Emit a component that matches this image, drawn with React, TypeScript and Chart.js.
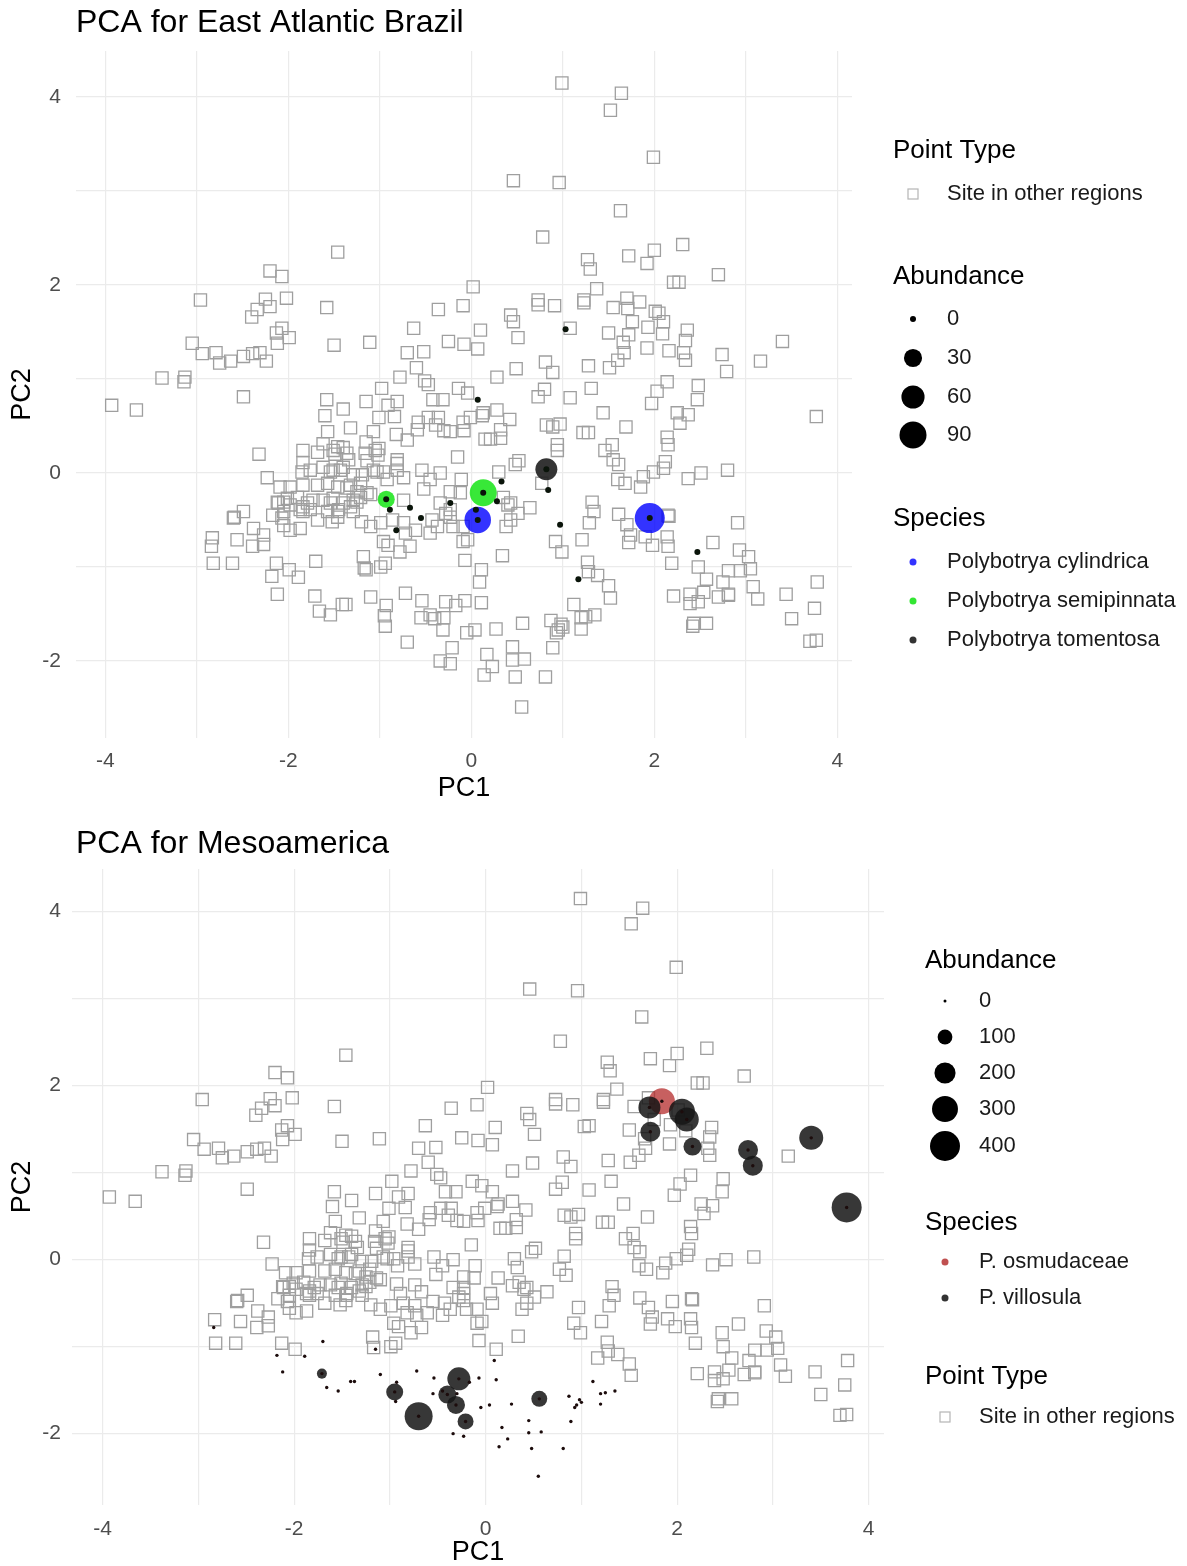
import { useEffect, useRef } from "react";
import { Chart, registerables } from "chart.js";

Chart.register(...registerables);

const FONT = "'Liberation Sans', Arial, Helvetica, sans-serif";

type XY = [number, number];
type Obs = [number, number, number]; // PC1, PC2, abundance

// Sites outside both focal regions (PC1, PC2)
const otherSites: XY[] = [
  [-1.46, 2.35], [-2.2, 2.15], [-2.07, 2.09], [-2.96, 1.84], [-2.25, 1.85], [-2.02, 1.86], [0.02, 1.98],
  [0.99, 4.15], [1.64, 4.04], [1.52, 3.86], [1.99, 3.36], [0.46, 3.11], [0.96, 3.09], [1.63, 2.79],
  [0.78, 2.51], [1.27, 2.27], [1.3, 2.17], [1.72, 2.31], [2.0, 2.37], [1.92, 2.23], [2.31, 2.43],
  [2.7, 2.11], [2.21, 2.03], [2.27, 2.03], [1.37, 1.96], [0.73, 1.84], [1.23, 1.84], [1.7, 1.86],
  [-2.34, 1.74], [-2.2, 1.77], [-2.4, 1.66], [-1.58, 1.76], [-0.36, 1.74], [-0.09, 1.78], [-0.63, 1.54],
  [-2.07, 1.54], [-2.13, 1.49], [-1.99, 1.44], [-2.12, 1.38], [-1.5, 1.36], [-1.11, 1.39], [-0.25, 1.4],
  [-0.08, 1.37], [-3.05, 1.38], [-2.94, 1.27], [-2.79, 1.28], [-2.75, 1.17], [-2.63, 1.19], [-2.49, 1.24],
  [-2.39, 1.27], [-2.31, 1.28], [-2.24, 1.19], [-0.7, 1.28], [-0.52, 1.29], [-3.38, 1.01], [-3.13, 1.02],
  [-3.14, 0.97], [-0.6, 1.12], [-0.78, 1.02], [-0.51, 0.98], [-0.47, 0.94], [-3.93, 0.72], [-3.66, 0.67],
  [-2.49, 0.81], [-0.98, 0.9], [-0.14, 0.9], [-0.04, 0.85], [-1.58, 0.78], [-1.15, 0.76], [-1.4, 0.68],
  [-0.91, 0.72], [-0.81, 0.76], [-1.01, 0.59], [-0.84, 0.6], [-1.6, 0.61], [-0.42, 0.78], [-0.31, 0.78],
  [-0.58, 0.54], [-0.47, 0.59], [-0.36, 0.59], [-0.39, 0.51], [-0.3, 0.45], [-0.09, 0.54], [-0.01, 0.59],
  [-0.08, 0.45], [-1.32, 0.48], [-1.57, 0.44], [-1.07, 0.44], [-0.82, 0.41], [-0.7, 0.35], [-1.62, 0.31],
  [-1.4, 0.27], [-1.15, 0.33], [-1.84, 0.24], [-1.51, 0.24], [-1.01, 0.26], [-1.02, 0.19], [-2.32, 0.2],
  [-0.15, 0.17], [-1.49, 0.2], [-1.34, 0.14], [-1.16, 0.21], [-1.14, 0.13], [-0.81, 0.14], [-0.81, 0.1],
  [-1.84, 0.11], [-1.62, 0.06], [-1.51, 0.03], [-1.4, 0.06], [-2.23, -0.05], [-1.85, 0.01], [-1.76, 0.03],
  [-1.29, -0.02], [-1.19, -0.02], [-1.03, 0.01], [-0.96, 0.01], [-0.54, 0.03], [-0.34, 0.0], [-0.74, -0.05],
  [-0.45, -0.07], [-0.11, -0.07], [-1.98, -0.15], [-1.84, -0.13], [-1.68, -0.13], [-1.57, -0.11],
  [-1.46, -0.15], [-1.36, -0.16], [-1.25, -0.2], [-1.14, -0.21], [-0.52, -0.17], [-0.23, -0.2],
  [-2.12, -0.31], [-2.05, -0.31], [-1.9, -0.26], [-1.79, -0.32], [-1.62, -0.29], [-1.51, -0.27],
  [-1.4, -0.32], [-1.29, -0.29], [-1.87, -0.39], [-1.76, -0.39], [-1.46, -0.41], [-0.74, -0.29],
  [-0.34, -0.32], [-2.59, -0.47], [-2.49, -0.41],
  [-1.68, 0.22], [-1.46, 0.28], [-1.36, 0.21], [-1.05, 0.24], [-1.54, 0.01], [-1.43, 0.03], [-1.07, 0.03],
  [-2.09, -0.15], [-1.32, -0.13], [-1.21, -0.11], [-2.01, -0.27], [-1.73, -0.29], [-1.21, -0.26],
  [-1.1, -0.23], [-2.05, -0.41], [-1.57, -0.41], [-1.29, -0.41], [-1.68, -0.5], [-0.92, -0.07],
  [-0.81, 0.03], [-0.86, -0.5], [-0.74, -0.53], [-0.12, -0.21], [-0.23, -0.39], [-0.43, -0.5],
  [-0.09, -0.57], [-0.2, -0.57], [-0.04, -0.71], [-0.59, 0.46], [-0.23, 0.44],
  [0.73, 1.79], [0.91, 1.78], [1.23, 1.81], [1.55, 1.76], [2.01, 1.72], [0.43, 1.68], [0.46, 1.61],
  [0.1, 1.52], [0.51, 1.44], [0.07, 1.32], [1.08, 1.54], [1.5, 1.49], [1.66, 1.39], [1.76, 1.61],
  [1.93, 1.55], [2.09, 1.48], [2.36, 1.52], [2.34, 1.41], [2.32, 1.28], [1.92, 1.33], [1.67, 1.28],
  [1.6, 1.2], [1.51, 1.12], [1.28, 1.14], [0.81, 1.18], [0.89, 1.07], [0.49, 1.11], [0.28, 1.02],
  [2.34, 1.2], [3.16, 1.19], [2.14, 0.97], [2.03, 0.87], [1.97, 0.74], [2.48, 0.93], [2.47, 0.78],
  [1.31, 0.9], [1.08, 0.8], [0.8, 0.89], [0.73, 0.81], [1.44, 0.64], [1.69, 0.49], [1.28, 0.43],
  [1.22, 0.43], [0.97, 0.52], [0.89, 0.49], [0.82, 0.51], [2.25, 0.64], [2.37, 0.62], [2.28, 0.53],
  [0.13, 0.64], [0.28, 0.67], [0.12, 0.61], [0.42, 0.57], [0.32, 0.46], [0.21, 0.36], [0.32, 0.37],
  [0.15, 0.36], [0.94, 0.3], [0.94, 0.24], [1.54, 0.3], [1.46, 0.24], [1.55, 0.14], [1.61, 0.09],
  [1.6, -0.07], [1.68, -0.11], [1.85, -0.15], [1.88, -0.04], [1.99, 0.01], [2.12, 0.12], [2.1, 0.05],
  [2.14, 0.38], [2.15, 0.3], [2.37, -0.06], [2.51, 0.0], [2.8, 0.03], [0.48, 0.09], [0.52, 0.13],
  [0.3, 0.01], [0.77, -0.11], [0.35, -0.26], [0.43, -0.32], [0.64, -0.37], [0.51, -0.43], [1.32, -0.31],
  [1.34, -0.41], [1.61, -0.44], [2.15, -0.45],
  [0.43, -0.5], [0.38, -0.57], [0.4, -0.34], [1.29, -0.53], [1.7, -0.55], [1.74, -0.66], [1.72, -0.74],
  [1.9, -0.68], [1.98, -0.77], [2.14, -0.68], [2.15, -0.78], [2.16, -0.46], [0.92, -0.73], [0.99, -0.84],
  [1.21, -0.71], [0.34, -0.88], [0.11, -1.03], [2.91, -0.53], [2.64, -0.74], [2.93, -0.82], [3.03, -0.89],
  [3.05, -1.02], [2.94, -1.04], [2.81, -1.04], [2.75, -1.16], [2.81, -1.29], [3.08, -1.21], [3.13, -1.34],
  [3.44, -1.29], [3.78, -1.16], [3.75, -1.44], [3.5, -1.55], [3.7, -1.79], [3.77, -1.78], [2.19, -0.96],
  [2.48, -1.0], [2.57, -1.13], [2.54, -1.27], [2.39, -1.29], [2.48, -1.37], [2.39, -1.39], [2.21, -1.31],
  [2.7, -1.32], [2.81, -1.3], [2.43, -1.6], [2.57, -1.6], [2.42, -1.63], [1.27, -0.95], [1.28, -1.05],
  [1.38, -1.09], [1.5, -1.2], [1.52, -1.33],
  [-2.11, -0.32], [-1.98, -0.34], [-1.84, -0.36], [-1.54, -0.32], [-1.45, -0.39], [-1.32, -0.36],
  [-1.25, -0.31], [-2.6, -0.48], [-2.38, -0.59], [-2.27, -0.66], [-2.17, -0.45], [-2.07, -0.48],
  [-2.05, -0.56], [-1.98, -0.61], [-1.87, -0.59], [-1.84, -0.41], [-1.52, -0.52], [-1.46, -0.47],
  [-2.83, -0.69], [-2.56, -0.71], [-2.39, -0.78], [-2.27, -0.76], [-2.82, -0.96], [-2.61, -0.96],
  [-2.13, -0.96], [-1.99, -1.03], [-1.2, -0.52], [-1.1, -0.57], [-0.99, -0.53], [-0.96, -0.73],
  [-0.91, -0.77], [-0.78, -0.84], [-0.67, -0.78], [-0.72, -0.64], [-0.61, -0.61], [-0.45, -0.64],
  [-0.37, -0.57], [-0.28, -0.43], [-0.23, -0.47], [-0.09, -0.73], [-0.07, -0.93], [-1.18, -0.89],
  [-1.17, -1.01], [-0.99, -1.0], [-0.94, -0.96],
];

// East Atlantic Brazil sites
const brazilSites: XY[] = [
  [1.03, 1.53], [0.07, 0.78], [-0.93, -0.28], [-0.89, -0.39], [-0.67, -0.37], [-0.55, -0.48],
  [-0.82, -0.61], [-0.23, -0.32], [0.05, -0.39], [0.07, -0.5], [0.13, -0.21], [0.33, -0.09],
  [0.28, -0.3], [0.82, 0.04], [0.84, -0.18], [0.97, -0.55], [1.17, -1.13], [1.95, -0.48], [2.47, -0.84],
];
const cylindrica: Obs[] = [[0.07, -0.5, 86], [1.95, -0.48, 118]];
const semipinnata: Obs[] = [[-0.93, -0.28, 25], [0.13, -0.21, 90]];
const tomentosa: Obs[] = [[0.82, 0.04, 52]];

// Mesoamerica sites
const mesoSites: XY[] = [
  [-2.84, -0.78], [-2.18, -1.1], [-2.12, -1.29], [-1.89, -1.11], [-1.7, -0.94], [-1.66, -1.47],
  [-1.54, -1.51], [-1.41, -1.4], [-1.37, -1.4], [-1.15, -1.03], [-1.1, -1.32], [-0.94, -1.63],
  [-0.93, -1.41], [-0.72, -1.28], [-0.54, -1.36], [-0.55, -1.54], [-0.45, -1.51], [-0.3, -1.54],
  [-0.07, -1.36], [-0.17, -1.41], [0.09, -1.16], [0.11, -1.38], [-0.05, -1.7], [0.04, -1.67],
  [0.27, -1.66], [-0.34, -2.0], [-0.23, -2.03], [0.17, -1.93], [0.23, -2.06], [0.14, -2.15],
  [0.45, -1.85], [0.45, -1.99], [0.58, -1.98], [0.48, -2.17], [0.55, -2.49], [0.81, -2.17],
  [0.89, -1.86], [0.87, -1.57], [0.93, -1.7], [0.95, -1.67], [0.98, -1.61], [1.0, -1.64],
  [1.12, -1.4], [1.2, -1.54], [1.25, -1.53], [1.35, -1.51], [1.2, -1.66],
  [-1.71, -1.31], [-0.95, -1.52], [-0.7, -1.8], [-0.28, -1.37], [-0.4, -1.55], [-0.31, -1.67],
  [-0.21, -1.86], [0.56, -1.6], [1.84, 1.82], [1.71, 1.75], [2.05, 1.7], [2.1, 1.61], [1.72, 1.47],
  [2.16, 1.3], [2.74, 1.26], [2.79, 1.08], [3.4, 1.4], [3.77, 0.6],
];
const osmudaceae: Obs[] = [[1.84, 1.82, 302]];
const villosula: Obs[] = [
  [-1.71, -1.31, 47], [-0.95, -1.52, 131], [-0.7, -1.8, 349], [-0.28, -1.37, 237], [-0.4, -1.55, 147],
  [-0.31, -1.67, 147], [-0.21, -1.86, 116], [0.56, -1.6, 116], [1.71, 1.75, 217], [2.05, 1.7, 302],
  [2.1, 1.61, 258], [1.72, 1.47, 180], [2.16, 1.3, 147], [2.74, 1.26, 180], [2.79, 1.08, 180],
  [3.4, 1.4, 258], [3.77, 0.6, 400],
];

const pc1Ticks = [-4, -3, -2, -1, 0, 1, 2, 3, 4];
const pc2Ticks = [-2, -1, 0, 1, 2, 3, 4];
const brazilBreaks = [0, 30, 60, 90];
const mesoBreaks = [0, 100, 200, 300, 400];

interface LegendRow {
  kind: "title" | "square" | "dot";
  y: number;
  text: string;
  r?: number;
  color?: string;
}

interface Group {
  name: string;
  data: Obs[];
  color: string;
}

interface PanelSpec {
  title: string;
  titleX: number;
  titleY: number;
  height: number;
  left: number;
  right: number;
  top: number;
  xAxisH: number;
  bottomPad: number;
  yTickPad: number;
  xTickPad: number;
  squares: XY[];
  siteDots: XY[];
  siteDotR: number;
  siteDotColor: string;
  groups: Group[];
  radius: (a: number) => number;
  legendTitleX: number;
  legendMarkerX: number;
  legendLabelX: number;
  legendRows: LegendRow[];
}

const evenLabel = (v: number) => (Math.round(v) % 2 === 0 ? String(Math.round(v)) : "");

function buildConfig(p: PanelSpec): any {
  const datasets: any[] = [
    {
      label: "Site in other regions",
      data: p.squares.map(([x, y]) => ({ x, y })),
      pointStyle: "rect",
      pointRadius: 8.6,
      pointHoverRadius: 8.6,
      pointBorderColor: "#9f9f9f",
      pointBackgroundColor: "rgba(0,0,0,0)",
      pointBorderWidth: 1.3,
      order: 5,
    },
    ...p.groups.map((g, i) => ({
      label: g.name,
      data: g.data.map(([x, y, a]) => ({ x, y, a })),
      pointStyle: "circle",
      pointRadius: (c: any) => p.radius(c.raw ? c.raw.a : 0),
      pointHoverRadius: (c: any) => p.radius(c.raw ? c.raw.a : 0),
      pointBackgroundColor: g.color,
      pointBorderWidth: 0,
      pointBorderColor: "rgba(0,0,0,0)",
      order: 4 - i * 0.1,
    })),
    {
      label: "Region sites",
      data: p.siteDots.map(([x, y]) => ({ x, y })),
      pointStyle: "circle",
      pointRadius: p.siteDotR,
      pointHoverRadius: p.siteDotR,
      pointBackgroundColor: p.siteDotColor,
      pointBorderWidth: 0,
      order: 1,
    },
  ];

  const frame = {
    id: "frame",
    afterDraw(chart: any) {
      const ctx = chart.ctx as CanvasRenderingContext2D;
      ctx.save();
      ctx.textAlign = "left";
      ctx.textBaseline = "middle";
      ctx.fillStyle = "#000";
      ctx.font = `32px ${FONT}`;
      ctx.fillText(p.title, p.titleX, p.titleY);
      for (const row of p.legendRows) {
        if (row.kind === "title") {
          ctx.font = `26px ${FONT}`;
          ctx.fillStyle = "#000";
          ctx.fillText(row.text, p.legendTitleX, row.y);
          continue;
        }
        if (row.kind === "square") {
          ctx.strokeStyle = "#b5b5b5";
          ctx.lineWidth = 1.2;
          ctx.strokeRect(p.legendMarkerX - 5, row.y - 5, 10, 10);
        } else {
          ctx.fillStyle = row.color || "#000";
          ctx.beginPath();
          ctx.arc(p.legendMarkerX, row.y, row.r || 3, 0, Math.PI * 2);
          ctx.fill();
        }
        ctx.font = `22px ${FONT}`;
        ctx.fillStyle = "#1a1a1a";
        ctx.fillText(row.text, p.legendLabelX, row.y);
      }
      ctx.restore();
    },
  };

  return {
    type: "scatter",
    data: { datasets },
    plugins: [frame],
    options: {
      responsive: false,
      maintainAspectRatio: false,
      animation: false,
      devicePixelRatio: 1,
      events: [],
      layout: {
        padding: { left: 0, top: p.top, right: 1187 - p.right, bottom: p.bottomPad },
      },
      plugins: {
        legend: { display: false },
        tooltip: { enabled: false },
        title: { display: false },
      },
      scales: {
        x: {
          type: "linear",
          min: -4.32,
          max: 4.16,
          afterBuildTicks: (s: any) => {
            s.ticks = pc1Ticks.map((v) => ({ value: v }));
          },
          afterFit: (s: any) => {
            s.height = p.xAxisH;
          },
          grid: { color: "#ebebeb", lineWidth: 1.2, drawTicks: false },
          border: { display: false },
          ticks: {
            callback: (v: any) => evenLabel(Number(v)),
            color: "#4d4d4d",
            font: { family: FONT, size: 21 },
            padding: p.xTickPad,
            autoSkip: false,
            maxRotation: 0,
          },
          title: {
            display: true,
            text: "PC1",
            color: "#000",
            font: { family: FONT, size: 27, lineHeight: 1 },
            padding: { top: 0, bottom: 0 },
          },
        },
        y: {
          type: "linear",
          min: -2.82,
          max: 4.49,
          afterBuildTicks: (s: any) => {
            s.ticks = pc2Ticks.map((v) => ({ value: v }));
          },
          afterFit: (s: any) => {
            s.width = p.left;
          },
          grid: { color: "#ebebeb", lineWidth: 1.2, drawTicks: false },
          border: { display: false },
          ticks: {
            callback: (v: any) => evenLabel(Number(v)),
            color: "#4d4d4d",
            font: { family: FONT, size: 21 },
            padding: p.yTickPad,
            autoSkip: false,
          },
          title: {
            display: true,
            text: "PC2",
            color: "#000",
            font: { family: FONT, size: 27, lineHeight: 1 },
            padding: { top: 9, bottom: 0 },
          },
        },
      },
    },
  };
}

const brazilRadius = (a: number) => 3 + 1.107 * Math.sqrt(a);
const mesoRadius = (a: number) => Math.max(1.5, -0.2 + 0.76 * Math.sqrt(a));

const brazilPanel: PanelSpec = {
  title: "PCA for East Atlantic Brazil",
  titleX: 76,
  titleY: 23,
  height: 806,
  left: 76,
  right: 852,
  top: 51,
  xAxisH: 64,
  bottomPad: 4,
  yTickPad: 15,
  xTickPad: 11,
  squares: [...otherSites, ...mesoSites],
  siteDots: brazilSites,
  siteDotR: 3,
  siteDotColor: "#0a140a",
  groups: [
    { name: "Polybotrya cylindrica", data: cylindrica, color: "rgba(0,0,255,0.8)" },
    { name: "Polybotrya semipinnata", data: semipinnata, color: "rgba(0,225,0,0.78)" },
    { name: "Polybotrya tomentosa", data: tomentosa, color: "rgba(35,35,35,0.92)" },
  ],
  radius: brazilRadius,
  legendTitleX: 893,
  legendMarkerX: 913,
  legendLabelX: 947,
  legendRows: [
    { kind: "title", y: 151, text: "Point Type" },
    { kind: "square", y: 194, text: "Site in other regions" },
    { kind: "title", y: 277, text: "Abundance" },
    ...brazilBreaks.map((b, i) => ({
      kind: "dot" as const,
      y: [319, 358, 397, 435][i],
      text: String(b),
      r: brazilRadius(b),
      color: "#000",
    })),
    { kind: "title", y: 519, text: "Species" },
    { kind: "dot", y: 562, text: "Polybotrya cylindrica", r: 3.5, color: "#3333ff" },
    { kind: "dot", y: 601, text: "Polybotrya semipinnata", r: 3.5, color: "#33e633" },
    { kind: "dot", y: 640, text: "Polybotrya tomentosa", r: 3.5, color: "#333333" },
  ],
};

const mesoPanel: PanelSpec = {
  title: "PCA for Mesoamerica",
  titleX: 76,
  titleY: 38,
  height: 760,
  left: 72,
  right: 884,
  top: 63,
  xAxisH: 61,
  bottomPad: 0,
  yTickPad: 11,
  xTickPad: 12,
  squares: [...otherSites, ...brazilSites],
  siteDots: mesoSites,
  siteDotR: 1.7,
  siteDotColor: "#1c0c0c",
  groups: [
    { name: "P. osmudaceae", data: osmudaceae, color: "rgba(178,34,34,0.72)" },
    { name: "P. villosula", data: villosula, color: "rgba(22,22,22,0.86)" },
  ],
  radius: mesoRadius,
  legendTitleX: 925,
  legendMarkerX: 945,
  legendLabelX: 979,
  legendRows: [
    { kind: "title", y: 155, text: "Abundance" },
    ...mesoBreaks.map((b, i) => ({
      kind: "dot" as const,
      y: [195, 231, 267, 303, 340][i],
      text: String(b),
      r: mesoRadius(b),
      color: "#000",
    })),
    { kind: "title", y: 417, text: "Species" },
    { kind: "dot", y: 456, text: "P. osmudaceae", r: 3.5, color: "#c05050" },
    { kind: "dot", y: 492, text: "P. villosula", r: 3.5, color: "#333333" },
    { kind: "title", y: 571, text: "Point Type" },
    { kind: "square", y: 611, text: "Site in other regions" },
  ],
};

function PcaPanel({ spec, top }: { spec: PanelSpec; top: number }) {
  const ref = useRef<HTMLCanvasElement>(null);
  useEffect(() => {
    if (!ref.current) return;
    const chart = new Chart(ref.current, buildConfig(spec));
    return () => chart.destroy();
  }, [spec]);
  return (
    <canvas
      ref={ref}
      width={1187}
      height={spec.height}
      style={{ position: "absolute", left: 0, top, width: 1187, height: spec.height }}
    />
  );
}

export default function App() {
  return (
    <div
      style={{
        position: "fixed",
        left: 0,
        top: 0,
        width: 1187,
        height: 1566,
        overflow: "hidden",
        background: "#ffffff",
      }}
    >
      <PcaPanel spec={brazilPanel} top={0} />
      <PcaPanel spec={mesoPanel} top={806} />
    </div>
  );
}
